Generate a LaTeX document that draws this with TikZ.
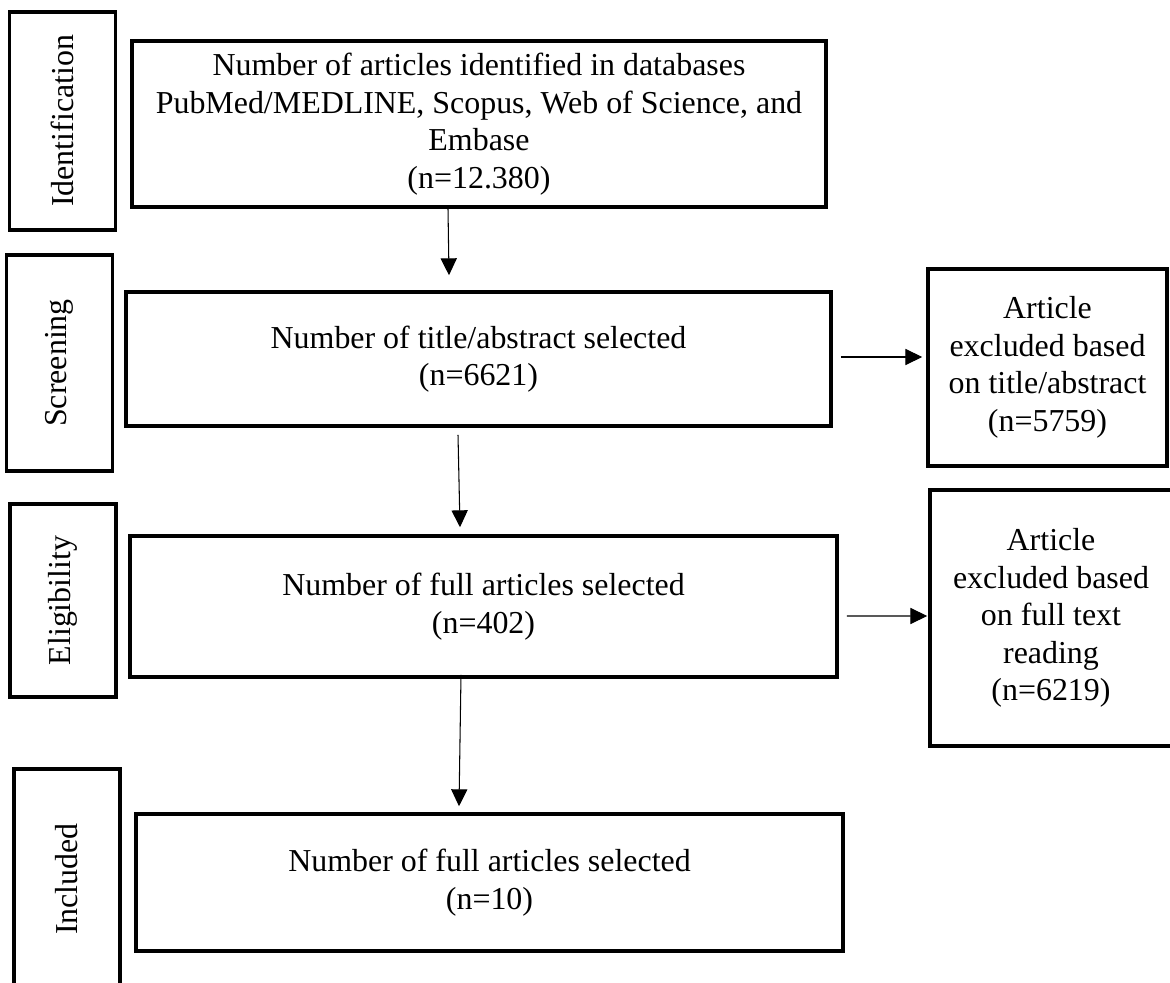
\documentclass[tikz,border=0pt]{standalone}
\usepackage{fontspec}
\setmainfont{Liberation Serif}
\usetikzlibrary{arrows.meta,calc}
\begin{document}
\begin{tikzpicture}[x=.025cm,y=-.025cm,line join=miter,>={Triangle[length=12pt,width=11.5pt]}]
	\tikzset{every node/.style={font=\fontsize{22.7}{26.7}\selectfont},
		box/.style={draw,line width=2.5pt,align=center,inner sep=0pt},
		stage/.style={box,rotate=90,minimum height=2.65cm},
		flow/.style={->,line width=.75pt}}
		\useasboundingbox (0,0) rectangle (1170,983);
		\node[stage,minimum width=5.45cm] (ident) at (62.5,121) {Identification};
		\node[stage,minimum width=5.4cm] (screen) at (59.5,363) {Screening};
		\node[stage,minimum width=4.825cm] (elig) at (63,600.5) {Eligibility};
		\node[stage,minimum width=5.5cm] (incl) at (67,879) {Included};
		\node[box,minimum width=17.35cm,minimum height=4.15cm] (b1) at (479,124)
			{Number of articles identified in databases\\PubMed/MEDLINE, Scopus, Web of Science, and\\Embase\\(n=12.380)};
		\node[box,minimum width=17.625cm,minimum height=3.35cm] (b2) at (478.5,359)
			{Number of title/abstract selected\\(n=6621)};
		\node[box,minimum width=17.675cm,minimum height=3.525cm] (b3) at (483.5,606.5)
			{Number of full articles selected\\(n=402)};
		\node[box,minimum width=17.675cm,minimum height=3.425cm] (b4) at (489.5,882.5)
			{Number of full articles selected\\(n=10)};
		\node[box,minimum width=5.975cm,minimum height=4.925cm] (r1) at (1047.5,367.5)
			{Article\\excluded based\\on title/abstract\\(n=5759)};
		\node[box,minimum width=6.05cm,minimum height=6.4cm] (r2) at (1051,618)
			{Article\\excluded based\\on full text\\reading\\(n=6219)};
	\draw[flow] ($(b1.south)+(-31,0)$) -- ($(b2.north)+(-29.5,-15)$);
	\draw[flow] ($(b2.south)+(-20.5,7)$) -- ($(b3.north)+(-23.5,-7)$);
	\draw[flow] ($(b3.south)+(-22.5,-4)$) -- ($(b4.north)+(-30.5,-6)$);
	\draw[flow] ($(b2.east)+(8,-2)$) -- ($(r1.west)+(-4,-10.5)$);
	\draw[flow] ($(b3.east)+(8,9.5)$) -- ($(r2.west)+(-1,-2)$);
\end{tikzpicture}
\end{document}
